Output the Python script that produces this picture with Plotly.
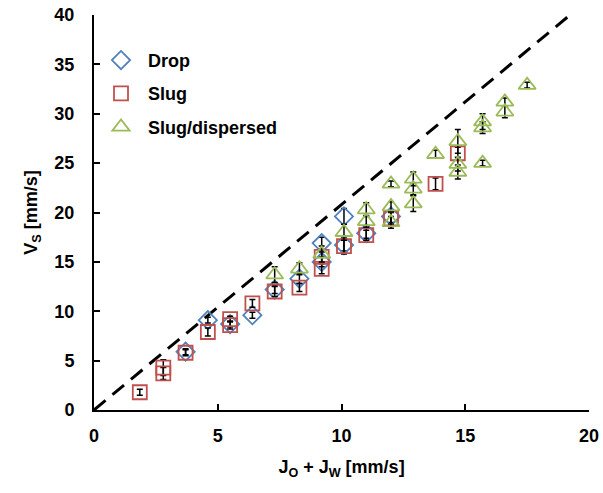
import plotly.graph_objects as go

# Drop regime: total superficial velocity, slug velocity, standard deviation [mm/s]
drop_j = [3.7, 4.6, 5.5, 6.4, 7.3, 8.3, 9.2, 9.2, 10.1, 10.1, 11.0, 12.0]
drop_v = [5.9, 9.1, 8.7, 9.6, 12.2, 13.3, 16.9, 15.0, 19.6, 16.7, 17.9, 19.6]
drop_e = [0.3, 0.3, 0.3, 0.3, 0.4, 0.5, 0.6, 0.5, 0.8, 0.6, 0.5, 0.6]

# Slug regime
slug_j = [1.85, 2.8, 2.8, 3.7, 4.6, 5.5, 5.5, 6.4, 7.3, 8.3, 9.2, 9.2,
          10.1, 11.0, 12.0, 13.8, 14.7]
slug_v = [1.8, 3.7, 4.3, 5.8, 7.9, 8.6, 9.2, 10.8, 12.0, 12.4, 14.3, 15.5,
          16.6, 17.7, 19.4, 22.9, 26.0]
slug_e = [0.3, 0.6, 0.8, 0.3, 0.4, 0.4, 0.3, 0.4, 0.5, 0.4, 0.5, 0.5,
          0.8, 0.5, 0.6, 0.6, 0.6]

# Slug/dispersed regime
sd_j = [7.3, 8.3, 9.2, 10.1, 11.0, 11.0, 12.0, 12.0, 12.0, 12.9, 12.9, 12.9,
        13.8, 14.7, 14.7, 14.7, 15.7, 15.7, 15.7, 16.6, 16.6, 17.5]
sd_v = [13.7, 14.3, 15.8, 18.0, 19.1, 20.3, 22.9, 20.6, 19.0, 23.4, 22.4, 20.9,
        25.9, 27.2, 24.9, 24.1, 25.0, 29.2, 28.6, 31.2, 30.2, 32.9]
sd_e = [0.8, 0.6, 0.8, 0.8, 0.6, 0.7, 0.3, 0.5, 0.6, 0.7, 0.6, 0.8,
        0.4, 1.2, 0.7, 0.7, 0.3, 0.8, 0.6, 0.4, 0.6, 0.3]

# Reference line V_S = k (J_O + J_W)
ref_slope = 2.08
ref_j_max = 40 / ref_slope

x_ticks = [0, 5, 10, 15, 20]
y_ticks = [0, 5, 10, 15, 20, 25, 30, 35, 40]

FONT = "Liberation Sans"

fig = go.Figure()

fig.add_trace(go.Scatter(
    x=[0, ref_j_max], y=[0, ref_slope * ref_j_max], mode="lines",
    line=dict(color="black", width=3, dash="15px,9px"),
    showlegend=False, hoverinfo="skip",
))

series = [
    ("Drop", drop_j, drop_v, drop_e, "diamond-open", "#4F81BD", 14),
    ("Slug", slug_j, slug_v, slug_e, "square-open", "#C0504D", 14),
    ("Slug/dispersed", sd_j, sd_v, sd_e, "triangle-up-open", "#9BBB59", 15),
]

for name, xs, ys, es, sym, col, size in series:
    fig.add_trace(go.Scatter(
        x=xs, y=ys, mode="markers", name=name, legendgroup=name,
        marker=dict(symbol=sym, size=size, color=col, line=dict(color=col, width=1.8)),
        error_y=dict(type="data", array=es, visible=True, color="black",
                     thickness=1.5, width=3),
    ))

fig.update_layout(
    width=603, height=493,
    margin=dict(l=94, r=14, t=15, b=83),
    paper_bgcolor="white", plot_bgcolor="white",
    font=dict(family=FONT, size=18, color="black"),
    showlegend=True,
    legend=dict(
        x=0.0, y=0.932, xanchor="left", yanchor="top",
        font=dict(family=FONT, size=18, color="black", weight="bold"),
        bgcolor="rgba(0,0,0,0)", itemwidth=44, tracegroupgap=7,
    ),
    xaxis=dict(
        range=[0, 20], tickvals=x_ticks, showgrid=False, zeroline=False,
        showline=True, linecolor="black", linewidth=2, automargin=False,
        ticks="inside", ticklen=6, tickwidth=1.5, tickcolor="black",
        tickfont=dict(family=FONT, size=18, weight="bold"),
        ticklabelstandoff=8,
        title=dict(text="J<sub>O</sub> + J<sub>W</sub> [mm/s]",
                   font=dict(family=FONT, size=18, weight="bold"), standoff=16),
    ),
    yaxis=dict(
        range=[0, 40], tickvals=y_ticks, showgrid=False, zeroline=False,
        showline=True, linecolor="black", linewidth=2, automargin=False,
        ticks="inside", ticklen=6, tickwidth=1.5, tickcolor="black",
        tickfont=dict(family=FONT, size=18, weight="bold"),
        ticklabelstandoff=14,
        title=dict(text="V<sub>S</sub> [mm/s]",
                   font=dict(family=FONT, size=18, weight="bold"), standoff=12),
    ),
)

fig.write_html("out.html")
